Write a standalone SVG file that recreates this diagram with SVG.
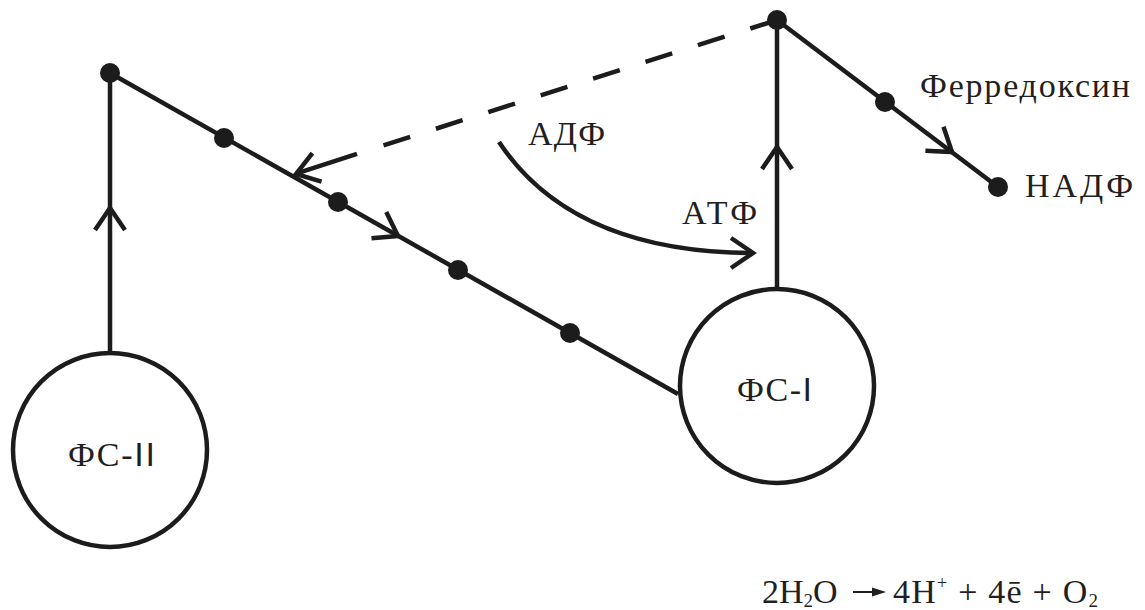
<svg xmlns="http://www.w3.org/2000/svg" width="1145" height="610" viewBox="0 0 1145 610">
<style>
.ln{fill:none;stroke:#1c1c1c;stroke-width:4.5}
.dash{stroke-dasharray:28 27}
.dot{fill:#1c1c1c}
.ps{fill:#fff;stroke:#1c1c1c;stroke-width:4.5}
.t{font-family:"Liberation Serif","DejaVu Serif",serif;font-size:34px;fill:#231f20}
.s{font-family:"Liberation Sans","DejaVu Sans",sans-serif}
</style>
<defs>
<path id="chev" d="M-22,-15 L0,0 L-22,15" fill="none" stroke="#1c1c1c" stroke-width="4.5"/>
</defs>
<rect width="1145" height="610" fill="#fff"/>
<g id="connectors">
<path class="ln" d="M110,353 L110,73"/>
<path class="ln" d="M110,73 L678,394"/>
<path class="ln" d="M777,288 L777,20"/>
<path class="ln" d="M777,20 L998,187"/>
<path class="ln dash" d="M777,20 L383,145.6"/>
<path class="ln" d="M357,153.9 L296,173.7"/>
<path class="ln" d="M499,142 Q572,252 752,253"/>
<use href="#chev" transform="translate(110,208) rotate(-90)"/>
<use href="#chev" transform="translate(777,147) rotate(-90)"/>
<use href="#chev" transform="translate(398,236) rotate(29.5)"/>
<use href="#chev" transform="translate(952,152) rotate(37.1)"/>
<use href="#chev" transform="translate(296,174) rotate(162.3)"/>
<use href="#chev" transform="translate(753,253) rotate(0)"/>
<circle class="dot" cx="110" cy="73" r="10"/>
<circle class="dot" cx="224" cy="138" r="10"/>
<circle class="dot" cx="338" cy="202" r="10"/>
<circle class="dot" cx="458" cy="270" r="10"/>
<circle class="dot" cx="570" cy="333" r="10"/>
<circle class="dot" cx="777" cy="20" r="10"/>
<circle class="dot" cx="885" cy="102" r="10"/>
<circle class="dot" cx="998" cy="187" r="10"/>
</g>
<g id="ps2">
<circle class="ps" cx="110" cy="450" r="97"/>
<text class="t" x="68" y="466" textLength="87">ФС-<tspan class="s">II</tspan></text>
</g>
<g id="ps1">
<circle class="ps" cx="777" cy="386" r="97"/>
<text class="t" x="737" y="401" textLength="75">ФС-<tspan class="s">I</tspan></text>
</g>
<g id="ferredoxin"><text class="t" x="920" y="97" textLength="210">Ферредоксин</text></g>
<g id="nadp"><text class="t" x="1025" y="197" textLength="108">НАДФ</text></g>
<g id="adp"><text class="t" x="528" y="145" textLength="77">АДФ</text></g>
<g id="atp"><text class="t" x="682" y="224" textLength="75">АТФ</text></g>
<g id="equation">
<text class="t" x="762" y="603">2H<tspan font-size="19" dy="4">2</tspan><tspan dy="-4">O</tspan></text>
<path d="M853,592 L874,592" stroke="#231f20" stroke-width="2" fill="none"/>
<path d="M872,587.5 L886,592 L872,596.5 Z" fill="#231f20"/>
<text class="t" x="893" y="603" textLength="205">4H<tspan font-size="18" dy="-14">+</tspan><tspan dy="14"> + 4ē + O</tspan><tspan font-size="19" dy="4">2</tspan></text>
</g>
</svg>
